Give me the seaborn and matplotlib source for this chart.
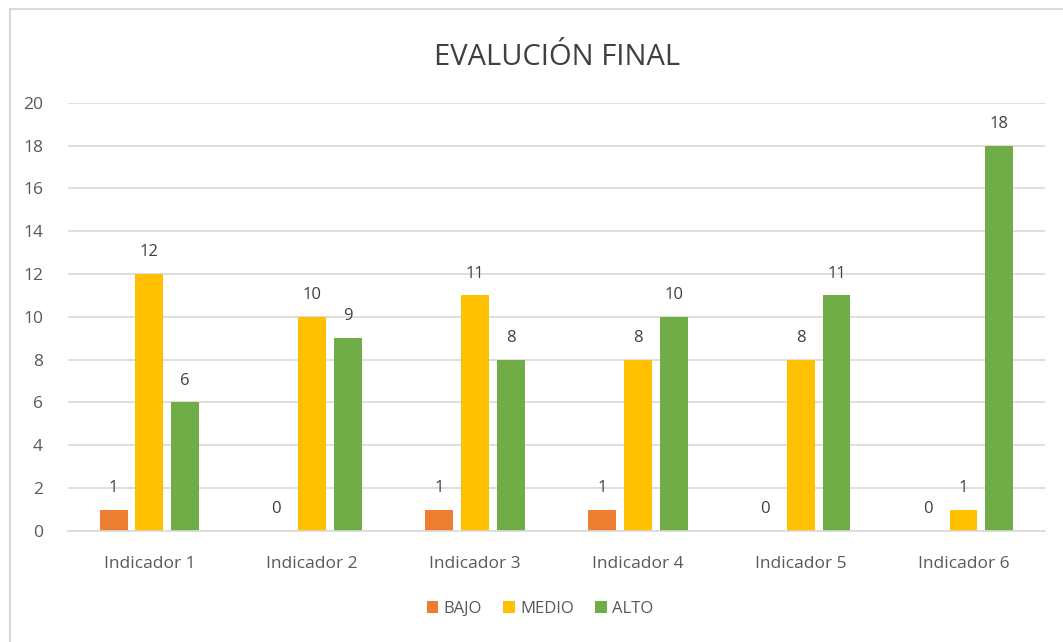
import pandas as pd
import matplotlib.pyplot as plt
import seaborn as sns
from matplotlib.patches import Rectangle

# data
indicadores = ['Indicador 1', 'Indicador 2', 'Indicador 3',
               'Indicador 4', 'Indicador 5', 'Indicador 6']
bajo = [1, 0, 1, 1, 0, 0]
medio = [12, 10, 11, 8, 8, 1]
alto = [6, 9, 8, 10, 11, 18]
niveles = ['BAJO', 'MEDIO', 'ALTO']
colores = ['#ED7D31', '#FFC000', '#70AD47']

df = pd.DataFrame({'Indicador': indicadores, 'BAJO': bajo, 'MEDIO': medio, 'ALTO': alto})
df = df.melt(id_vars='Indicador', var_name='Nivel', value_name='Valor')

sns.set_theme(style='white')
plt.rcParams['font.family'] = ['Open Sans', 'DejaVu Sans']
text_color = '#595959'
grid_color = '#D9D9D9'

fig = plt.figure(figsize=(10.63, 6.42), dpi=100)
ax = fig.add_axes([0.064, 0.173, 0.919, 0.667])

sns.barplot(data=df, x='Indicador', y='Valor', hue='Nivel', hue_order=niveles,
            palette=colores, width=0.66, gap=0.22, saturation=1,
            linewidth=0, ax=ax, legend=True)

for cont in ax.containers:
    ax.bar_label(cont, padding=10, fontsize=12, color='#404040')

ax.set_ylim(0, 20)
ax.set_xlim(-0.5, 5.5)
ax.set_yticks(range(0, 21, 2))
ax.yaxis.grid(True, color=grid_color, linewidth=1.2)
ax.set_axisbelow(True)
for side in ['top', 'right', 'left']:
    ax.spines[side].set_visible(False)
ax.spines['bottom'].set_color(grid_color)
ax.spines['bottom'].set_linewidth(1.2)
ax.tick_params(axis='both', length=0, labelsize=12.5, colors=text_color)
ax.tick_params(axis='x', pad=18)
ax.tick_params(axis='y', pad=18)
ax.set_xlabel('')
ax.set_ylabel('')

fig.text(0.524, 0.91, 'EVALUCIÓN FINAL', ha='center', va='center',
         fontsize=21, color='#404040')

handles, labels = ax.get_legend_handles_labels()
ax.get_legend().remove()
fig.legend(handles, labels, loc='center', bbox_to_anchor=(0.508, 0.052), ncol=3,
           frameon=False, fontsize=12, handlelength=0.7, handleheight=0.7,
           handletextpad=0.3, columnspacing=1.3, labelcolor=text_color)

fig.patches.append(Rectangle((0.009, -0.01), 1.0, 0.996, transform=fig.transFigure,
                             fill=False, edgecolor='#D9D9D9', linewidth=1.5))

fig.savefig('out.png', dpi=100)
